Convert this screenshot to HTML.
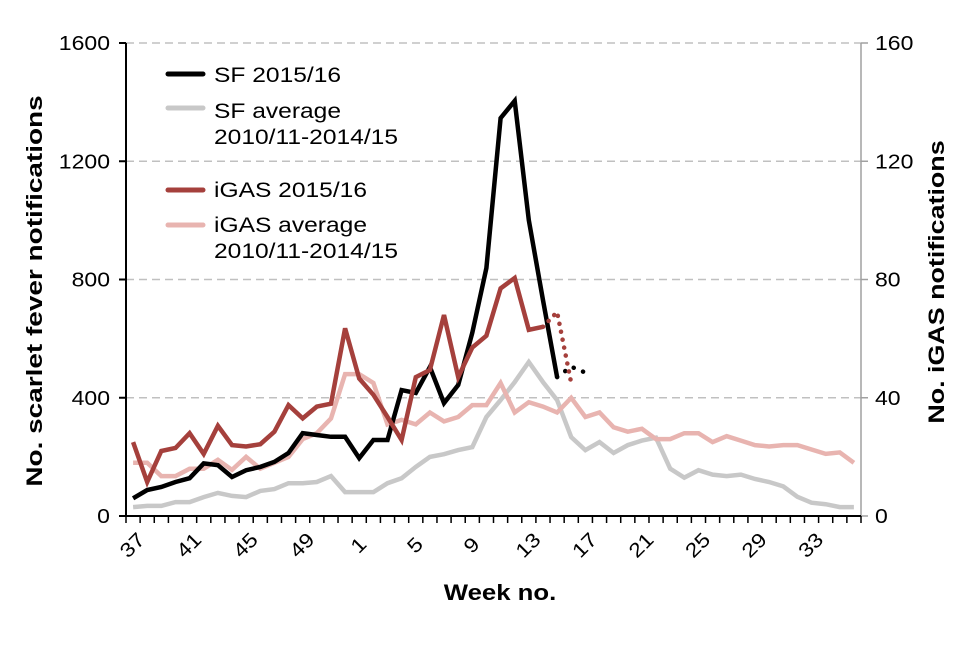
<!DOCTYPE html>
<html><head><meta charset="utf-8"><style>
body{margin:0;background:#fff}
svg text{font-family:"Liberation Sans",Arial,sans-serif}
</style></head><body>
<svg id="c" width="960" height="640" xmlns="http://www.w3.org/2000/svg"></svg>
<script>
const weeks=[37,38,39,40,41,42,43,44,45,46,47,48,49,50,51,52,1,2,3,4,5,6,7,8,9,10,11,12,13,14,15,16,17,18,19,20,21,22,23,24,25,26,27,28,29,30,31,32,33,34,35,36];
const sf1516=[60,88,98,115,128,178,172,132,155,166,183,213,280,274,268,268,196,257,257,426,416,504,382,443,620,839,1346,1404,1001,730,470];
const sfDotted=[470,505,485];
const sfAvg=[30,34,34,47,47,64,78,68,64,85,91,111,111,115,135,81,81,81,111,128,166,200,209,223,233,335,392,453,521,453,392,267,223,250,213,240,255,265,160,130,155,140,135,140,125,115,100,65,45,40,30,30];
const igas1516=[25,11.5,22,23,28,21,30.5,24,23.5,24.3,28.5,37.5,33,37,38,63.5,46.5,41,33.5,25.7,47,49.4,68,47,57,61,77,80.5,63,64];
const igasDotted=[64,69,45];
const igasAvg=[18,18,13.5,13.5,16,16,19,15.6,20,16,18,20,26,28,33,48,48,45,31,32.5,31,35,32,33.5,37.5,37.5,45,35,38.5,37,35,40,33.5,35,30,28.5,29.5,26,26,28,28,25,27,25.5,24,23.5,24,24,22.5,21,21.5,18];
const leftTicks=[0,400,800,1200,1600];
const rightTicks=[0,40,80,120,160];
const labelWeeks=[37,41,45,49,1,5,9,13,17,21,25,29,33];

const L=126,R=861,T=43,B=516,N=weeks.length,step=(R-L)/N;
const x=i=>L+step*(i+0.5);
const yL=v=>B-(B-T)*v/1600;
const yR=v=>B-(B-T)*v/160;
const svg=document.getElementById('c');
const NS='http://www.w3.org/2000/svg';
function mk(t,a,p){const e=document.createElementNS(NS,t);for(const k in a)e.setAttribute(k,a[k]);(p||svg).appendChild(e);return e;}
function stretch(t,f){const w=t.getComputedTextLength();if(w>0){t.setAttribute('textLength',(w*f).toFixed(1));t.setAttribute('lengthAdjust','spacingAndGlyphs');}}

leftTicks.forEach(v=>{if(v>0){const g=mk('line',{x1:L,x2:R,y1:yL(v),y2:yL(v),stroke:'#c0c0c0','stroke-width':1.5,'stroke-dasharray':'8,5'});

}});
let a=mk('line',{x1:L,x2:L,y1:T,y2:B,stroke:'#000','stroke-width':2});

a=mk('line',{x1:R,x2:R,y1:T,y2:B,stroke:'#a0a0a0','stroke-width':1.5});

a=mk('line',{x1:L,x2:R,y1:B,y2:B,stroke:'#000','stroke-width':2});

leftTicks.forEach(v=>{mk('line',{x1:L-7,x2:L,y1:yL(v),y2:yL(v),stroke:'#000','stroke-width':2});
const t=mk('text',{x:L-16,y:yL(v)+7,'text-anchor':'end','font-size':20});t.textContent=v;stretch(t,1.15);
});
rightTicks.forEach(v=>{mk('line',{x1:R,x2:R+7,y1:yR(v),y2:yR(v),stroke:'#a0a0a0','stroke-width':1.5});
const t=mk('text',{x:R+14,y:yR(v)+7,'text-anchor':'start','font-size':20});t.textContent=v;stretch(t,1.15);
});
for(let i=0;i<=N;i++)mk('line',{x1:L+step*i,x2:L+step*i,y1:B,y2:B+7,stroke:'#000','stroke-width':1.5});
weeks.forEach((w,i)=>{if(labelWeeks.includes(w)&&!(w===37&&i>0)){const X=x(i)+4,Y=B+34;
const t=mk('text',{x:X,y:Y,'text-anchor':'middle','font-size':20,transform:`rotate(-45 ${X} ${Y})`});t.textContent=w;stretch(t,1.15);
}});

function line(arr,off,yf,color,w,name,dash){
 const pts=arr.map((v,i)=>`${x(i+off).toFixed(1)},${yf(v).toFixed(1)}`).join(' ');
 const attrs={points:pts,fill:'none',stroke:color,'stroke-width':w,'stroke-linejoin':'miter'};
 if(dash){attrs['stroke-dasharray']=dash;attrs['stroke-linecap']='round';}
 const p=mk('polyline',attrs);
 
 
}
line(sfAvg,0,yL,'#c8c8c8',4.5,'sf-average-line');
line(igasAvg,0,yR,'#e8b4b0',4.5,'igas-average-line');
line(sf1516,0,yL,'#000',4.5,'sf-2015-16-line');
line(sfDotted,sf1516.length-1,yL,'#000',4.5,'sf-provisional-dotted','0.1,10');
line(igas1516,0,yR,'#a5403c',4.5,'igas-2015-16-line');
line(igasDotted,igas1516.length-1,yR,'#a5403c',4.5,'igas-provisional-dotted','0.1,8');

const leg=[['SF 2015/16','#000',74,82],['SF average','#c8c8c8',108,118],['iGAS 2015/16','#a5403c',190,197],['iGAS average','#e8b4b0',225,232]];
leg.forEach(([t,c,y,by])=>{const g=mk('g',{});
mk('line',{x1:168,x2:203,y1:y,y2:y,stroke:c,'stroke-width':5,'stroke-linecap':'round'},g);
const tx=mk('text',{x:214,y:by,'font-size':21},g);tx.textContent=t;stretch(tx,1.17);});
[144,258].forEach(y=>{const tx=mk('text',{x:214,y:y,'font-size':21});tx.textContent='2010/11-2014/15';stretch(tx,1.17);
});

let t=mk('text',{x:500,y:600,'text-anchor':'middle','font-size':22,'font-weight':'bold'});t.textContent='Week no.';stretch(t,1.17);

t=mk('text',{x:42,y:291,'text-anchor':'middle','font-size':22,'font-weight':'bold',transform:'rotate(-90 42 291)'});t.textContent='No. scarlet fever notifications';stretch(t,1.27);

t=mk('text',{x:944,y:282,'text-anchor':'middle','font-size':22,'font-weight':'bold',transform:'rotate(-90 944 282)'});t.textContent='No. iGAS notifications';stretch(t,1.22);

</script>
</body></html>
